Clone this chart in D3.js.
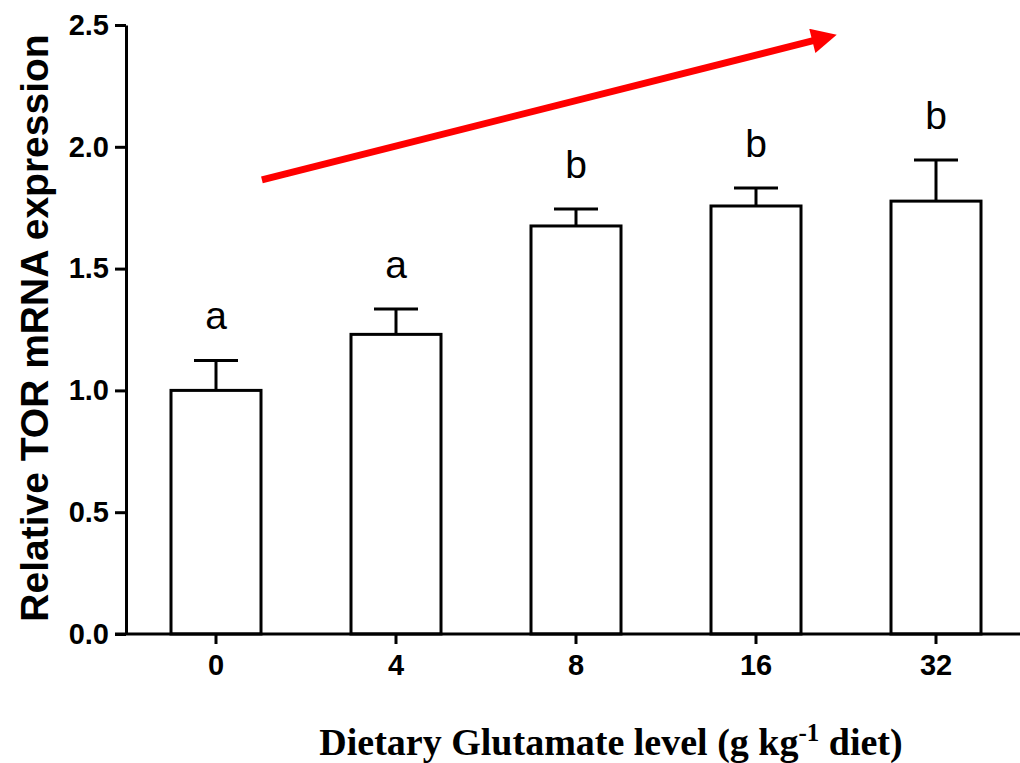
<!DOCTYPE html>
<html>
<head>
<meta charset="utf-8">
<script src="https://cdn.jsdelivr.net/npm/d3@7"></script>
<style>
  body { margin: 0; background: #fff; }
  svg { display: block; }
  .axis path, .axis line { stroke: #000; stroke-width: 3px; }
  .axis text { font-family: "Liberation Sans", Arial, sans-serif; font-weight: bold; font-size: 29px; fill: #000; }
</style>
</head>
<body>
<svg id="chart" width="1020" height="763"></svg>
<script>
// data
var levels = ["0", "4", "8", "16", "32"];
var means = [1.00, 1.23, 1.675, 1.757, 1.777];
var errors = [0.123, 0.104, 0.07, 0.074, 0.169];
var letters = ["a", "a", "b", "b", "b"];
var yTicks = [0, 0.5, 1.0, 1.5, 2.0, 2.5];

(function(){
  var plotLeft = 126, plotTop = 25, plotBottom = 634;
  var svg = d3.select("#chart");

  var x = d3.scaleBand().domain(levels).range([plotLeft, plotLeft + 900]).paddingInner(0.5).paddingOuter(0.25);
  var y = d3.scaleLinear().domain([0, 2.5]).range([plotBottom, plotTop]);

  // bars
  svg.selectAll("rect.bar").data(means).enter()
    .append("rect")
    .attr("class", "bar")
    .attr("x", function(d, i){ return x(levels[i]); })
    .attr("y", function(d){ return y(d); })
    .attr("width", x.bandwidth())
    .attr("height", function(d){ return y(0) - y(d); })
    .attr("fill", "#fff")
    .attr("stroke", "#000")
    .attr("stroke-width", 3);

  // upper error bars
  var cx = function(i){ return x(levels[i]) + x.bandwidth() / 2; };
  var err = svg.append("g").attr("stroke", "#000").attr("stroke-width", 3);
  means.forEach(function(m, i){
    err.append("line")
      .attr("x1", cx(i)).attr("x2", cx(i))
      .attr("y1", y(m)).attr("y2", y(m + errors[i]));
    err.append("line")
      .attr("x1", cx(i) - 22).attr("x2", cx(i) + 22)
      .attr("y1", y(m + errors[i])).attr("y2", y(m + errors[i]));
  });

  // significance letters
  svg.selectAll("text.sig").data(letters).enter()
    .append("text")
    .attr("class", "sig")
    .attr("x", function(d, i){ return cx(i); })
    .attr("y", function(d, i){ return y(means[i] + errors[i]) - 31; })
    .attr("text-anchor", "middle")
    .style("font-family", "Liberation Sans, Arial, sans-serif")
    .style("font-size", "39px")
    .text(function(d){ return d; });

  // axes
  svg.append("g")
    .attr("class", "axis")
    .attr("transform", "translate(" + plotLeft + ",0)")
    .call(d3.axisLeft(y).tickValues(yTicks).tickFormat(d3.format(".1f")).tickSize(11).tickPadding(6).tickSizeOuter(0));

  svg.append("g")
    .attr("class", "axis")
    .attr("transform", "translate(0," + plotBottom + ")")
    .call(d3.axisBottom(x).tickSize(10).tickPadding(10).tickSizeOuter(0))
    .select(".domain").attr("d", "M" + (plotLeft - 11) + ",0H" + (plotLeft + 910));

  // red trend arrow, placed in band-index / data units
  var xi = d3.scaleLinear().domain([0, 1]).range([cx(0), cx(1)]);
  svg.append("defs").append("marker")
    .attr("id", "head")
    .attr("viewBox", "0 0 10 10")
    .attr("refX", 2).attr("refY", 5)
    .attr("markerWidth", 4.2).attr("markerHeight", 3.6)
    .attr("orient", "auto")
    .attr("markerUnits", "strokeWidth")
    .append("path").attr("d", "M0,0L10,5L0,10Z").attr("fill", "#ff0000");
  svg.append("line")
    .attr("x1", xi(0.255)).attr("y1", y(1.864))
    .attr("x2", xi(3.34)).attr("y2", y(2.44))
    .attr("stroke", "#ff0000")
    .attr("stroke-width", 7)
    .attr("marker-end", "url(#head)");

  // axis titles
  svg.append("text")
    .attr("transform", "translate(48,328) rotate(-90)")
    .attr("text-anchor", "middle")
    .style("font-family", "Liberation Sans, Arial, sans-serif")
    .style("font-weight", "bold")
    .style("font-size", "39px")
    .text("Relative TOR mRNA expression");

  var xt = svg.append("text")
    .attr("x", 611).attr("y", 755)
    .attr("text-anchor", "middle")
    .style("font-family", "Liberation Serif, Times New Roman, serif")
    .style("font-weight", "bold")
    .style("font-size", "38px");
  xt.append("tspan").text("Dietary Glutamate level (g kg");
  xt.append("tspan").attr("dy", -14).style("font-size", "25px").text("-1");
  xt.append("tspan").attr("dy", 14).text(" diet)");
})();
</script>
</body>
</html>
